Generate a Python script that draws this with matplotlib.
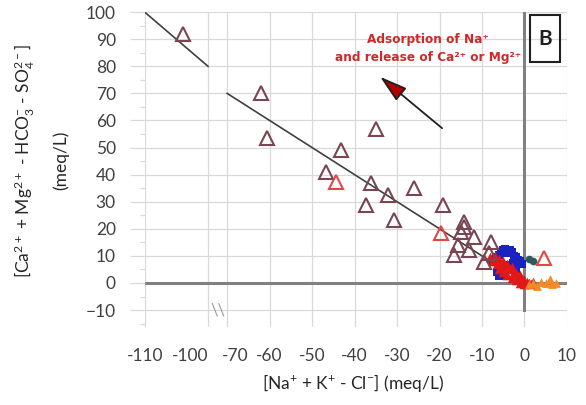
import numpy as np
import matplotlib
matplotlib.use('Agg')
from matplotlib import pyplot as plt
from matplotlib.patches import Rectangle
from matplotlib.transforms import ScaledTranslation

plt.rcParams['font.family'] = ['Lato', 'DejaVu Sans']
plt.rcParams['mathtext.fontset'] = 'custom'
plt.rcParams['mathtext.rm'] = 'Lato'
plt.rcParams['mathtext.bf'] = 'Lato:bold'
plt.rcParams['mathtext.default'] = 'regular'

# open triangles (dark)
tri_x = [-98, -62, -60.5, -35, -43.3, -46.8, -36.2, -32.2, -26, -37.4, -19.1, -30.7,
         -14.2, -14.9, -11.8, -15.6, -16.5, -13, -7.8, -14.2, -8.3, -9.5]
tri_y = [92, 70, 53.5, 57, 49, 41, 37, 32.5, 35, 28.8, 28.8, 23.2,
         22.5, 18.8, 17, 14, 10.3, 12.2, 15.1, 20.7, 11, 7.8]
# open triangles (red)
tri_red_x = [-44.4, -19.6, 4.7]
tri_red_y = [37.3, 18.5, 9.2]

blue_x = [-7.5, -6.8, -6.0, -5.5, -5.0, -4.5, -4.0, -3.5, -3.0, -2.5, -2.0, -1.5, -1.0,
          -0.5, -6.5, -6.0, -5.2, -4.8, -3.8, -2.8, -2.0]
blue_y = [8.0, 9.5, 10.5, 11.5, 12.0, 12.5, 11.0, 12.0, 11.5, 10.0, 9.5, 8.5, 8.0,
          7.0, 4.0, 2.5, 3.0, 5.5, 6.5, 7.5, 5.0]

red_x = [-8.0, -7.5, -7.0, -6.5, -6.0, -5.5, -5.0, -4.5, -4.0, -3.5, -3.0, -2.5, -2.0,
         -1.5, -1.0, -0.5, 0.0, 0.5, 1.0, 1.5, -6.0, -5.0, -4.0, -3.0, -2.0, -1.0, 0.0, 2.0]
red_y = [9.5, 8.0, 10.0, 7.0, 9.0, 6.5, 8.0, 5.5, 7.0, 5.0, 6.0, 4.0, 3.5,
         2.5, 3.0, 1.5, 1.0, 0.5, 0.0, -0.5, 5.0, 4.0, 3.0, 2.0, 1.0, 0.0, -0.5, 0.5]

orange_x = [1.0, 2.0, 3.0, 4.0, 5.0, 6.0, 6.5, 7.5]
orange_y = [-0.5, 0.0, -1.0, 0.5, 0.0, 1.5, -0.5, 0.0]

teal_x = [1.0, 2.0]
teal_y = [9.0, 8.0]

# 1:1 lines (two pieces, broken axis)
line1_x = [-110, -90]
line1_y = [100, 80]
line2_x = [-70, -6]
line2_y = [70, 6]

xticks = [-110, -100, -70, -60, -50, -40, -30, -20, -10, 0, 10]
xgrid = [-110, -90, -70, -60, -50, -40, -30, -20, -10, 0, 10]
yticks = list(range(-10, 101, 10))


# broken x axis: left part squeezed, gap between -90 and -70
U90 = -74.5
S_LEFT = 0.745
S_GAP = (-70 - U90) / 20.0


def fwd(x):
	x = np.asarray(x, dtype=float)
	return np.where(x >= -70, x,
		np.where(x >= -90, U90 + (x + 90) * S_GAP, U90 + (x + 90) * S_LEFT))


def inv(u):
	u = np.asarray(u, dtype=float)
	return np.where(u >= -70, u,
		np.where(u >= U90, -90 + (u - U90) / S_GAP, -90 + (u - U90) / S_LEFT))


grid_c = '#d9d9d9'
axis_c = '#808080'
mauve = '#7a4552'
redc = '#e04848'

fig = plt.figure(figsize=(5.86, 4.05), dpi=100)
ax = fig.add_axes([0.247, 0.193, 0.7205, 0.777])
ax.set_xscale('function', functions=(fwd, inv))
ax.set_xlim(-110, 10)
ax.set_ylim(-16.2, 100)

for s in ax.spines.values():
	s.set_visible(False)

for g in xgrid:
	ax.axvline(g, color=grid_c, lw=0.9, zorder=0)
for g in yticks:
	ax.axhline(g, color=grid_c, lw=0.9, zorder=0)

ax.axhline(0, color=axis_c, lw=2.2, zorder=1)
ax.plot([0, 0], [-10, 100], color=axis_c, lw=2.2, zorder=1)

ax.set_xticks(xticks)
ax.set_xticklabels([str(t) for t in xticks])
ax.set_yticks(yticks)
ax.set_yticks(list(range(-15, 100, 10)), minor=True)
ax.xaxis.set_minor_locator(matplotlib.ticker.NullLocator())
ax.tick_params(axis='x', length=0, pad=15, labelsize=12.5, labelcolor='#404040')
ax.tick_params(axis='y', which='major', length=10.8, width=0.9, color=grid_c,
	pad=10, labelsize=12.5, labelcolor='#404040')
ax.tick_params(axis='y', which='minor', length=3.6, width=0.9, color=grid_c)

# labels near the break sit a little right of their ticks, as in the original
for lab in ax.get_xticklabels():
	if lab.get_text() == '-100':
		lab.set_transform(lab.get_transform() + ScaledTranslation(10 / 72, 0, fig.dpi_scale_trans))
	elif lab.get_text() == '-70':
		lab.set_transform(lab.get_transform() + ScaledTranslation(6 / 72, 0, fig.dpi_scale_trans))

ax.plot(line1_x, line1_y, color='#404040', lw=1.2, zorder=2)
ax.plot(line2_x, line2_y, color='#404040', lw=1.2, zorder=2)

ax.scatter(blue_x, blue_y, marker='s', s=36, color='#1a22c0', zorder=3, lw=0)
ax.scatter(red_x, red_y, marker='^', s=48, color='#e01818', zorder=4, lw=0)
ax.scatter(orange_x, orange_y, marker='^', s=40, color='#f28a28', zorder=4, lw=0)
ax.scatter(teal_x, teal_y, marker='o', s=30, color='#2f5a5a', zorder=4, lw=0)
ax.plot(tri_x, tri_y, ls='none', marker='^', ms=10, mfc='none', mec=mauve, mew=1.5, zorder=5)
ax.plot(tri_red_x, tri_red_y, ls='none', marker='^', ms=10, mfc='none', mec=redc, mew=1.5, zorder=5)

# break mark
ax.text(-80, -10, '\\\\', color='#9a9a9a', fontsize=12, ha='center', va='center')

ax.annotate('', xy=(-34.5, 76.8), xytext=(-18.9, 56.5),
	arrowprops=dict(arrowstyle='-|>,head_length=0.85,head_width=0.25', mutation_scale=20,
		edgecolor='#202020', facecolor='#b00000', lw=1.3))
ax.text(-22.7, 86.5, 'Adsorption of Na\u207a\nand release of Ca\u00b2\u207a or Mg\u00b2\u207a',
	color='#d02828', fontsize=8.7, fontweight='bold', ha='center', va='center',
	linespacing=1.5, family='DejaVu Sans')

ax.add_patch(Rectangle((0.912, 0.841), 0.071, 0.149, transform=ax.transAxes,
	fill=False, ec='#202020', lw=1.5, zorder=6))
ax.text(0.9475, 0.915, 'B', transform=ax.transAxes, fontsize=15, fontweight='bold',
	ha='center', va='center', color='#202020', zorder=6)

fig.text(0.043, 0.602, '[Ca$^{2+}$ + Mg$^{2+}$ - HCO$_{3}^{-}$ - SO$_{4}^{2-}$]',
	rotation=90, ha='center', va='center', fontsize=12.5, color='#262626')
fig.text(0.104, 0.605, '(meq/L)', rotation=90, ha='center', va='center',
	fontsize=12.5, color='#262626')
fig.text(0.603, 0.054, '[Na$^{+}$ + K$^{+}$ - Cl$^{-}$] (meq/L)', ha='center', va='center',
	fontsize=12.5, color='#262626')

fig.savefig('out.png', dpi=100)
